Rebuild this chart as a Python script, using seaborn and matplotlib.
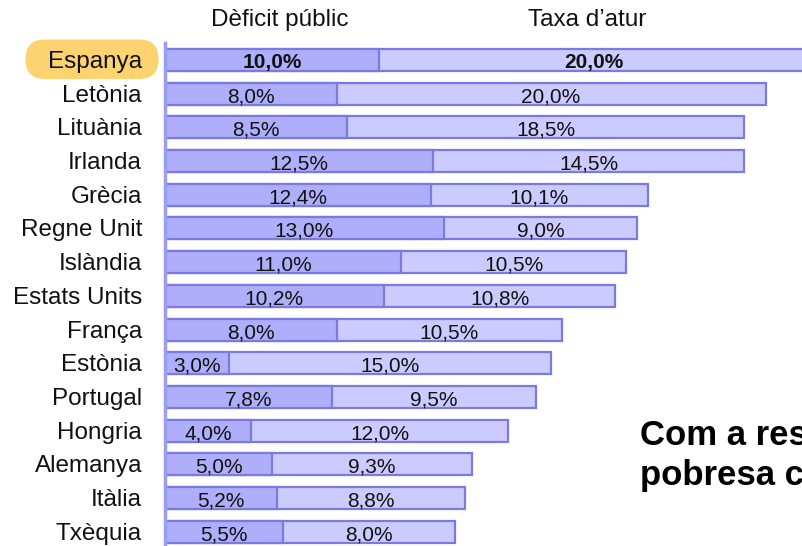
import matplotlib
matplotlib.use("Agg")
import matplotlib.pyplot as plt
from matplotlib.patches import FancyBboxPatch
import seaborn as sns
import pandas as pd

countries = ["Espanya", "Letònia", "Lituània", "Irlanda", "Grècia", "Regne Unit",
             "Islàndia", "Estats Units", "França", "Estònia", "Portugal", "Hongria",
             "Alemanya", "Itàlia", "Txèquia"]
deficit = [10.0, 8.0, 8.5, 12.5, 12.4, 13.0, 11.0, 10.2, 8.0, 3.0, 7.8, 4.0, 5.0, 5.2, 5.5]
unemployment = [20.0, 20.0, 18.5, 14.5, 10.1, 9.0, 10.5, 10.8, 10.5, 15.0, 9.5, 12.0, 9.3, 8.8, 8.0]
headers = ["Dèficit públic", "Taxa d’atur"]
highlight = "Espanya"

df = pd.DataFrame({"country": countries, "deficit": deficit, "unemployment": unemployment})
df["total"] = df["deficit"] + df["unemployment"]

sns.set_theme(style="white")
plt.rcParams["font.family"] = ["Liberation Sans", "DejaVu Sans"]

W, H = 802, 546
fig = plt.figure(figsize=(W / 100, H / 100), dpi=100)
ax_left, ax_top = 165, 43
px_per_unit = 21.45
ax = fig.add_axes([ax_left / W, 0, (W - ax_left) / W, (H - ax_top) / H])

c_def = "#aeaefa"
c_unemp = "#cbcbff"
c_edge = "#7a7ae0"

# total length (light) first, deficit segment drawn over it
sns.barplot(data=df, x="total", y="country", orient="h", color=c_unemp, width=0.65,
            edgecolor=c_edge, linewidth=1.6, saturation=1, ax=ax)
sns.barplot(data=df, x="deficit", y="country", orient="h", color=c_def, width=0.65,
            edgecolor=c_edge, linewidth=1.6, saturation=1, ax=ax)

ax.set_xlim(0, (W - ax_left) / px_per_unit)
ax.set_ylim(14.42, -0.5)
ax.set_xlabel("")
ax.set_ylabel("")
ax.set_xticks([])
ax.set_yticks([])
for side in ["top", "right", "bottom"]:
    ax.spines[side].set_visible(False)
ax.spines["left"].set_color("#9c9cf2")
ax.spines["left"].set_linewidth(2.5)


def fmt(v):
    return f"{v:.1f}%".replace(".", ",")


for i, (name, d, u) in enumerate(zip(countries, deficit, unemployment)):
    weight = "bold" if name == highlight else "normal"
    ax.text(d / 2, i + 0.09, fmt(d), ha="center", va="center", fontsize=15,
            fontweight=weight, color="#111111")
    ax.text(d + u / 2, i + 0.09, fmt(u), ha="center", va="center", fontsize=15,
            fontweight=weight, color="#111111")
    ax.text(-23 / px_per_unit, i + 0.06, name, ha="right", va="center", fontsize=17.5,
            color="#111111", clip_on=False)

# pill behind the highlighted country (pixel coordinates)
pill = FancyBboxPatch((45, H - 59.5), 94, 0.5,
                      boxstyle="round,pad=19.5,rounding_size=19.5",
                      transform=None, facecolor="#fdd370", edgecolor="none", zorder=-1)
fig.patches.append(pill)

fig.text(280 / W, 1 - 20 / H, headers[0], ha="center", va="center", fontsize=17.5,
         color="#111111")
fig.text(587 / W, 1 - 20 / H, headers[1], ha="center", va="center", fontsize=17.5,
         color="#111111")

fig.text(640 / W, 1 - 445 / H, "Com a res", ha="left", va="baseline", fontsize=25,
         fontweight="bold", color="#000000")
fig.text(640 / W, 1 - 485 / H, "pobresa c", ha="left", va="baseline", fontsize=25,
         fontweight="bold", color="#000000")

fig.savefig("out.png", dpi=100, facecolor="white")
